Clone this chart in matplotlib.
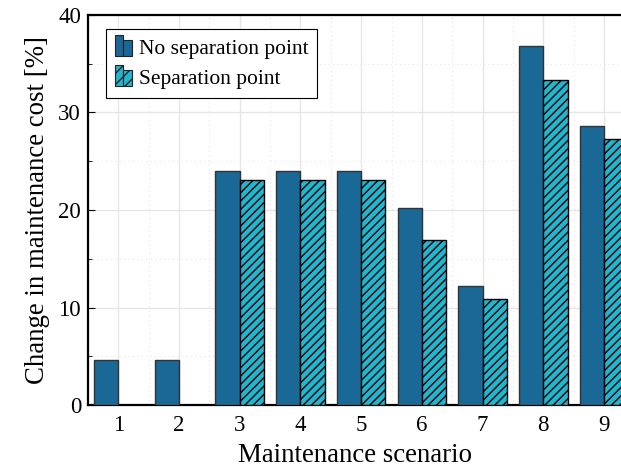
import matplotlib
matplotlib.use("Agg")
import matplotlib.pyplot as plt
import numpy as np
from matplotlib.patches import Rectangle
from matplotlib.legend_handler import HandlerBase
from matplotlib.ticker import MultipleLocator

scenarios = [1, 2, 3, 4, 5, 6, 7, 8, 9]
no_sep = [4.6, 4.6, 23.95, 23.95, 23.95, 20.2, 12.2, 36.85, 28.6]
sep = [0.0, 0.0, 23.1, 23.1, 23.1, 16.9, 10.9, 33.35, 27.25]
labels = ["No separation point", "Separation point"]

dark = "#1a6896"
cyan = "#22b5cd"

plt.rcParams['font.family'] = ['Liberation Serif', 'DejaVu Serif']
plt.rcParams['hatch.linewidth'] = 1.0

fig = plt.figure(figsize=(6.21, 4.69), dpi=100)
ax = fig.add_axes([88/621, 64/469, 533/621, 390/469])

x = np.array(scenarios, dtype=float)
w = 0.4
b1 = ax.bar(x - w/2, no_sep, w, color=dark, edgecolor="#333333", linewidth=1.0, zorder=3)
b2 = ax.bar(x + w/2, sep, w, color=cyan, edgecolor="black", linewidth=1.0, hatch="////", zorder=3)

ax.set_xlim(0.5, 9.28)
ax.set_ylim(0, 40)
ax.set_xticks(scenarios)
ax.yaxis.set_major_locator(MultipleLocator(10))
ax.yaxis.set_minor_locator(MultipleLocator(5))
ax.xaxis.set_minor_locator(MultipleLocator(0.5))
ax.grid(which="major", color="#e6e6e6", linewidth=1.0, zorder=0)
ax.grid(which="minor", color="#e6e6e6", linewidth=0.8, linestyle=(0, (1, 3)), zorder=0)
ax.set_axisbelow(True)
ax.tick_params(axis="both", which="major", direction="in", length=5, labelsize=16.5, width=0.8)
ax.tick_params(axis="x", which="both", length=0)
ax.tick_params(axis="y", which="minor", direction="in", length=3, width=0.6)
ax.tick_params(axis="x", pad=7)
ax.tick_params(axis="y", pad=5)
for s in ["left", "bottom", "top"]:
    ax.spines[s].set_linewidth(1.6)
ax.spines["right"].set_visible(False)

ax.set_xlabel("Maintenance scenario", fontsize=19.3, labelpad=5)
ax.set_ylabel("Change in maintenance cost [%]", fontsize=19.3, labelpad=6)


class TwoBarHandler(HandlerBase):
    def __init__(self, fc, hatch=None):
        super().__init__()
        self.fc = fc
        self.hatch = hatch

    def create_artists(self, legend, orig_handle, xdescent, ydescent, width, height, fontsize, trans):
        bw = width / 2
        r1 = Rectangle((-xdescent, -ydescent - height * 0.1), bw, height * 1.3, facecolor=self.fc,
                       edgecolor="#222222", linewidth=0.8, hatch=self.hatch, transform=trans)
        r2 = Rectangle((-xdescent + bw, -ydescent - height * 0.1), bw, height * 1.0, facecolor=self.fc,
                       edgecolor="#222222", linewidth=0.8, hatch=self.hatch, transform=trans)
        return [r1, r2]


leg = ax.legend([b1, b2], labels, loc="upper left", bbox_to_anchor=(0.025, 0.975),
                handler_map={b1: TwoBarHandler(dark), b2: TwoBarHandler(cyan, "///")},
                fontsize=15.5, frameon=True, fancybox=False, edgecolor="black",
                handlelength=0.82, handleheight=0.8, handletextpad=0.3, borderpad=0.42,
                labelspacing=0.42, borderaxespad=0.2)
leg.get_frame().set_linewidth(0.8)
leg.get_frame().set_alpha(1)

fig.savefig("out.png", dpi=100)
